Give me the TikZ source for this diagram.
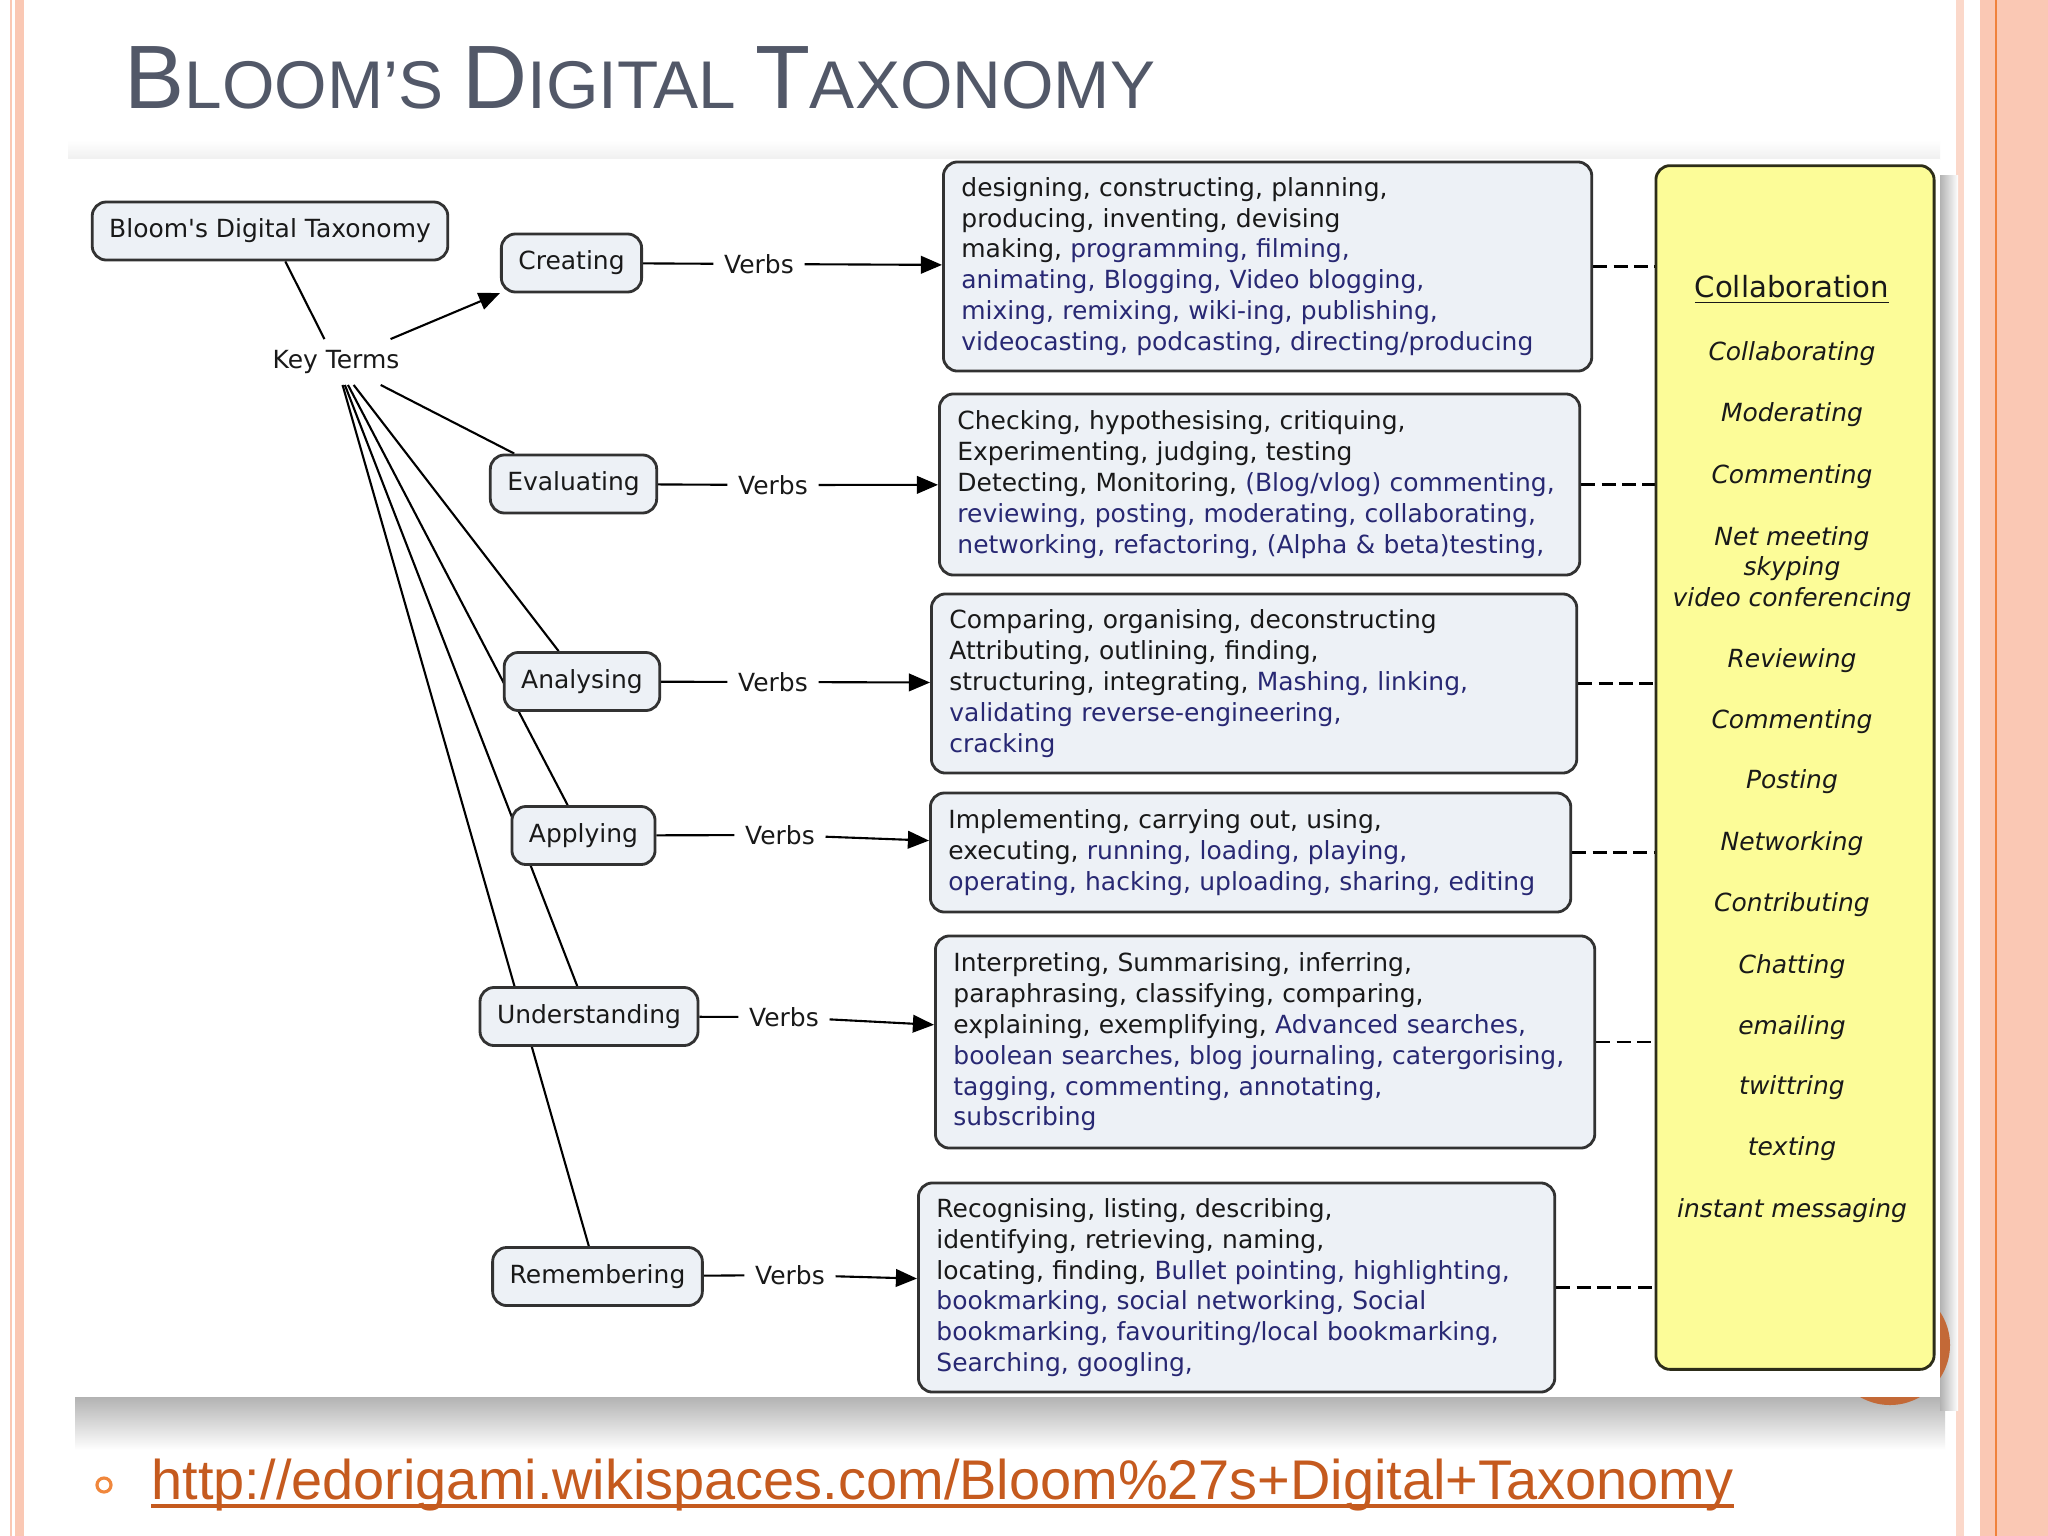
\documentclass[tikz,border=0pt]{standalone}
\usepackage{fontspec}
\setmainfont{DejaVu Sans}
\newfontfamily\slidefont{Liberation Sans}
\usetikzlibrary{arrows.meta}
\definecolor{slidePink}{RGB}{250,200,180}
\definecolor{slideOrange}{RGB}{240,130,60}
\definecolor{titleGrey}{RGB}{82,88,104}
\definecolor{boxFill}{RGB}{237,241,246}
\definecolor{boxLine}{RGB}{50,50,50}
\definecolor{inkBlack}{RGB}{25,25,25}
\definecolor{verbNavy}{RGB}{40,40,115}
\definecolor{noteYellow}{RGB}{252,252,152}
\definecolor{noteLine}{RGB}{45,45,25}
\definecolor{urlBrown}{RGB}{197,90,30}
\definecolor{bulletOrange}{RGB}{240,135,60}
\definecolor{ringOrange}{RGB}{195,105,55}
\newcommand{\mapsize}{\fontsize{7.1}{8.76}\selectfont}
\newcommand{\webverb}[1]{\textcolor{verbNavy}{#1}}
\newcommand{\titlecap}[1]{{\fontsize{25.6}{26}\selectfont #1}}
\pgfdeclarelayer{slide}
\pgfdeclarelayer{lines}
\pgfsetlayers{slide,lines,main}

\begin{document}
\begin{tikzpicture}[x=0.01cm, y=0.01cm,
    level/.style={draw=boxLine, fill=boxFill, line width=0.8pt, rounded corners=4pt,
      minimum height=5.8mm, inner xsep=1.7mm, text=inkBlack, font=\mapsize},
    verblist/.style={draw=boxLine, fill=boxFill, line width=0.8pt, rounded corners=4pt,
      align=left, anchor=west, inner xsep=1.8mm, text=inkBlack, font=\mapsize},
    verbtag/.style={inner sep=1mm, text=inkBlack, font=\mapsize},
    link/.style={line width=0.6pt},
    tolist/.style={line width=0.6pt, -{Triangle[length=6pt,width=5pt]}},
    tonote/.style={line width=0.8pt, dash pattern=on 4pt off 1.8pt},
    noteitem/.style={font=\mapsize\itshape, align=center, text=inkBlack}]
  \useasboundingbox (0,0) rectangle (2048,-1536);

  % slide
  \begin{pgfonlayer}{slide}
    \fill[white] (0,0) rectangle (2048,-1536);
    \fill[slidePink] (10,0) rectangle (24,-1536);
    \draw[white, line width=0.6pt] (13.5,0) -- (13.5,-1536);
    \fill[slidePink!70] (1956,0) rectangle (1964,-1536);
    \fill[slidePink] (1980,0) rectangle (2048,-1536);
    \draw[slideOrange, line width=0.8pt] (1996,0) -- (1996,-1536);
    \shade[top color=white, bottom color=gray!12] (68,-140) rectangle (1940,-159);
    \shade[top color=gray!60, bottom color=white] (75,-1397) rectangle (1945,-1450);
    \shade[left color=gray!60, right color=white] (1940,-175) rectangle (1958,-1410);
    \fill[ringOrange] (1890,-1345) circle (60);
    \fill[white] (68,-159) rectangle (1940,-1397);
  \end{pgfonlayer}

  \node[anchor=base west, inner sep=0, text=titleGrey] (title) at (124,-108)
    {\slidefont\fontsize{19.2}{26}\selectfont \titlecap{B}LOOM’S \titlecap{D}IGITAL \titlecap{T}AXONOMY};

  % levels
  \node[level] (bdt) at (270,-231) {Bloom\textquotesingle s Digital Taxonomy};
  \node[inner sep=3pt, text=inkBlack, font=\mapsize] (keys) at (336,-362) {Key Terms};
  \node[level] (create) at (571.5,-263) {Creating};
  \node[level] (evaluate) at (573.5,-484) {Evaluating};
  \node[level] (analyse) at (582,-681.5) {Analysing};
  \node[level] (apply) at (583.5,-835.5) {Applying};
  \node[level] (understand) at (589,-1016.5) {Understanding};
  \node[level] (remember) at (597.5,-1276.5) {Remembering};

  \node[verbtag] (vcreate) at (759,-264) {Verbs};
  \node[verbtag] (vevaluate) at (773,-485) {Verbs};
  \node[verbtag] (vanalyse) at (773,-682) {Verbs};
  \node[verbtag] (vapply) at (780,-835) {Verbs};
  \node[verbtag] (vunderstand) at (784,-1017) {Verbs};
  \node[verbtag] (vremember) at (790,-1275) {Verbs};

  % verb lists
  \node[verblist, text width=6.12cm, minimum height=2.09cm] (lcreate) at (942,-266.5)
    {designing, constructing, planning,\\
     producing, inventing, devising\\
     making, \webverb{programming, filming,}\\
     \webverb{animating, Blogging, Video blogging,}\\
     \webverb{mixing, remixing, wiki-ing, publishing,}\\
     \webverb{videocasting, podcasting, directing/producing}};
  \node[verblist, text width=6.04cm, minimum height=1.81cm] (levaluate) at (938,-484.5)
    {Checking, hypothesising, critiquing,\\
     Experimenting, judging, testing\\
     Detecting, Monitoring, \webverb{(Blog/vlog) commenting,}\\
     \webverb{reviewing, posting, moderating, collaborating,}\\
     \webverb{networking, refactoring, (Alpha \& beta)testing,}};
  \node[verblist, text width=6.09cm, minimum height=1.79cm] (lanalyse) at (930,-683.5)
    {Comparing, organising, deconstructing\\
     Attributing, outlining, finding,\\
     structuring, integrating, \webverb{Mashing, linking,}\\
     \webverb{validating reverse-engineering,}\\
     \webverb{cracking}};
  \node[verblist, text width=6.04cm, minimum height=1.19cm] (lapply) at (929,-852.5)
    {Implementing, carrying out, using,\\
     executing, \webverb{running, loading, playing,}\\
     \webverb{operating, hacking, uploading, sharing, editing}};
  \node[verblist, text width=6.23cm, minimum height=2.12cm] (lunderstand) at (934,-1042)
    {Interpreting, Summarising, inferring,\\
     paraphrasing, classifying, comparing,\\
     explaining, exemplifying, \webverb{Advanced searches,}\\
     \webverb{boolean searches, blog journaling, catergorising,}\\
     \webverb{tagging, commenting, annotating,}\\
     \webverb{subscribing}};
  \node[verblist, text width=6.00cm, minimum height=2.09cm] (lremember) at (917,-1287.5)
    {Recognising, listing, describing,\\
     identifying, retrieving, naming,\\
     locating, finding, \webverb{Bullet pointing, highlighting,}\\
     \webverb{bookmarking, social networking, Social}\\
     \webverb{bookmarking, favouriting/local bookmarking,}\\
     \webverb{Searching, googling,}};

  % collaboration note
  \node[draw=noteLine, fill=noteYellow, line width=0.8pt, rounded corners=4pt,
    minimum width=2.78cm, minimum height=12.03cm] (note) at (1795,-767.5) {};
  \node[text=inkBlack, font=\fontsize{8.3}{10}\selectfont] (notehead) at (1792,-290) {\underline{Collaboration}};
  \foreach \y/\t [count=\n] in {354/Collaborating, 415/Moderating, 477/Commenting,
      569/{Net meeting\\skyping\\video conferencing}, 661/Reviewing, 722/Commenting,
      782/Posting, 844/Networking, 905/Contributing, 967/Chatting, 1028/emailing,
      1088/twittring, 1149/texting, 1211/instant messaging}
    \node[noteitem] (item\n) at (1792,-\y) {\t};

  % connectors
  \begin{pgfonlayer}{lines}
    \draw[link] (bdt) -- (keys);
    \draw[tolist] (keys) -- (create);
    \foreach \lv in {evaluate, analyse, apply, understand, remember}
      \draw[link] (keys) -- (\lv);
    \foreach \lv in {create, evaluate, analyse, apply, understand, remember} {
      \draw[link] (\lv) -- (v\lv);
      \draw[tolist] (v\lv) -- (l\lv);
      \draw[tonote] (l\lv.east) -- (l\lv.east -| note.west);
    }
  \end{pgfonlayer}

  % link below
  \draw[bulletOrange, line width=0.9pt] (104,-1485) circle (7);
  \node[anchor=base west, inner sep=0, text=urlBrown, font=\slidefont\fontsize{15.9}{18}\selectfont] (url) at (151,-1499)
    {http://edorigami.wikispaces.com/Bloom\%27s+Digital+Taxonomy};
  \draw[urlBrown, line width=1pt] ([yshift=-2pt]url.base west) -- ([yshift=-2pt]url.base east);
\end{tikzpicture}
\end{document}
